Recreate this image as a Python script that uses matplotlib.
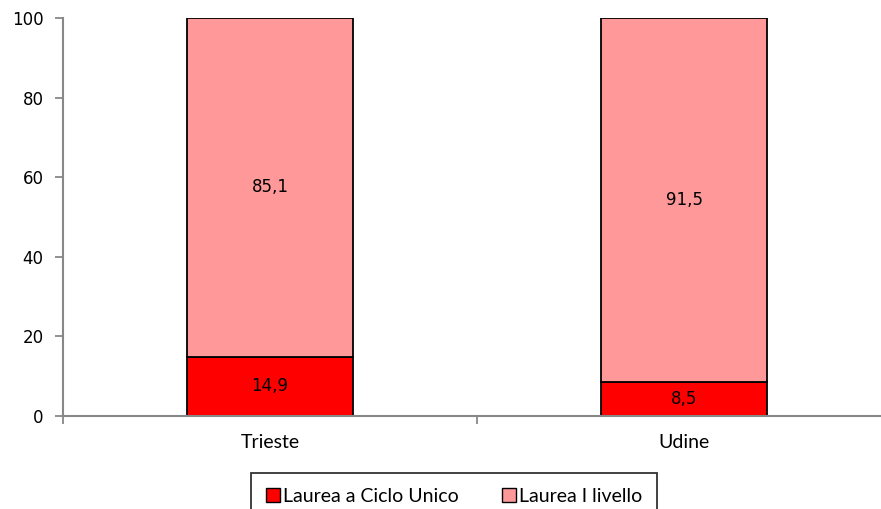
import matplotlib.pyplot as plt
import numpy as np

# data
cities = ['Trieste', 'Udine']
ciclo_unico = [14.9, 8.5]
primo_livello = [85.1, 91.5]
labels = ['Laurea a Ciclo Unico', 'Laurea I livello']
colors = ['#FF0000', '#FF9999']

fig = plt.figure(figsize=(8.81, 5.09), dpi=100)
ax = fig.add_axes([0.0715, 0.1827, 0.94, 0.782])

x = np.arange(len(cities))
b1 = ax.bar(x, ciclo_unico, width=0.4, color=colors[0], edgecolor='black', linewidth=1.3, label=labels[0])
b2 = ax.bar(x, primo_livello, width=0.4, bottom=ciclo_unico, color=colors[1], edgecolor='black', linewidth=1.3, label=labels[1])

for bars, vals, bottoms in [(b1, ciclo_unico, [0, 0]), (b2, primo_livello, ciclo_unico)]:
    for rect, v, b in zip(bars, vals, bottoms):
        ax.text(rect.get_x() + rect.get_width() / 2, b + v / 2, f'{v:.1f}'.replace('.', ','),
                ha='center', va='center', fontsize=12, family='DejaVu Sans')

ax.set_xlim(-0.5, 1.5)
ax.set_ylim(0, 100)
ax.set_yticks([0, 20, 40, 60, 80, 100])
ax.set_xticks(x)
ax.set_xticklabels(cities, family='Lato', fontsize=14)
ax.set_xticks([-0.5, 0.5, 1.5], minor=True)
ax.tick_params(axis='x', which='major', length=0, pad=13)
ax.tick_params(axis='x', which='minor', length=6, color='#888888', width=1.3)
ax.tick_params(axis='y', length=6, color='#888888', width=1.3, labelsize=12, pad=8)

for side in ['top', 'right']:
    ax.spines[side].set_visible(False)
for side in ['left', 'bottom']:
    ax.spines[side].set_color('#888888')
    ax.spines[side].set_linewidth(1.5)

leg = fig.legend(loc='upper center', bbox_to_anchor=(454 / 881, 1 - 473 / 509), ncol=2,
                 prop={'family': 'Lato', 'size': 14}, frameon=True, fancybox=False,
                 edgecolor='black', handlelength=0.75, handleheight=0.75, handletextpad=0.15,
                 columnspacing=2.2, borderpad=0.75, borderaxespad=0)
leg.get_frame().set_linewidth(1.3)
for h in leg.legend_handles:
    h.set_linewidth(1)

fig.savefig('out.png', dpi=100)
